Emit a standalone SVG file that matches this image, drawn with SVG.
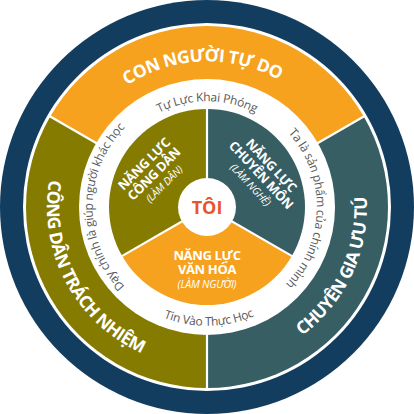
<svg xmlns="http://www.w3.org/2000/svg" xmlns:xlink="http://www.w3.org/1999/xlink" width="414" height="414" viewBox="0 0 414 414">
<style>
.big{font-family:"Open Sans","Noto Sans",sans-serif;font-weight:700;font-size:17.5px;letter-spacing:-0.6px;fill:#fff}
.ring{font-family:"Open Sans","Noto Sans",sans-serif;font-size:12px;letter-spacing:-0.25px;fill:#58595b}
.lab{font-family:"Open Sans","Noto Sans",sans-serif;font-weight:700;font-size:13px;letter-spacing:-0.35px;fill:#fff;text-anchor:middle}
.sub{font-family:"Open Sans","Noto Sans",sans-serif;font-style:italic;font-size:10.5px;letter-spacing:-0.2px;fill:#fff;text-anchor:middle}
.sep{stroke:#fff;stroke-width:2.2;fill:none}
</style>
<defs>
<path id="pTop" d="M69.87,156.73 A147,147 0 0 1 345.13,156.73"/>
<path id="pLeft" d="M108.5,80.9 A160,160 0 0 0 256.4,359.2"/>
<path id="pRight" d="M165.6,361.5 A160,160 0 0 0 298.8,75.9"/>
<path id="rTop" d="M107.4,171.0 A106,106 0 0 1 306.6,171.0"/>
<path id="rLeft" d="M197.1,320.6 A114,114 0 0 1 197.1,93.4"/>
<path id="rRight" d="M218.5,97.6 A110,110 0 0 1 214.7,316.7"/>
<path id="rBot" d="M90.2,229.7 A119,119 0 0 0 324.5,225.6"/>
</defs>
<circle cx="207" cy="207" r="207" fill="#133d5e"/>
<circle cx="207" cy="207" r="184" fill="#fff"/>
<g id="outer-top">
<path d="M207,207 L50.25,116.5 A181,181 0 0 1 363.75,116.5 Z" fill="#f6a21f"/>
<text class="big"><textPath xlink:href="#pTop" href="#pTop" startOffset="48.5%" text-anchor="middle">CON NGƯỜI TỰ DO</textPath></text>
</g>
<g id="outer-right">
<path d="M207,207 L363.75,116.5 A181,181 0 0 1 207,388 Z" fill="#365e63"/>
<text class="big"><textPath xlink:href="#pRight" href="#pRight" startOffset="50%" text-anchor="middle">CHUYÊN GIA ƯU TÚ</textPath></text>
</g>
<g id="outer-left">
<path d="M207,207 L207,388 A181,181 0 0 1 50.25,116.5 Z" fill="#857b01"/>
<text class="big"><textPath xlink:href="#pLeft" href="#pLeft" startOffset="50%" text-anchor="middle">CÔNG DÂN TRÁCH NHIỆM</textPath></text>
</g>
<g id="connectors">
<line class="sep" x1="207" y1="207" x2="207" y2="390"/>
<line class="sep" x1="207" y1="207" x2="48.5" y2="115.5"/>
<line class="sep" x1="207" y1="207" x2="365.5" y2="115.5"/>
</g>
<g id="ring">
<circle cx="207" cy="207" r="128" fill="#fff"/>
<text class="ring"><textPath xlink:href="#rTop" href="#rTop" startOffset="50%" text-anchor="middle">Tự Lực Khai Phóng</textPath></text>
<text class="ring"><textPath xlink:href="#rLeft" href="#rLeft" startOffset="50%" text-anchor="middle">Dạy chính là giúp người khác học</textPath></text>
<text class="ring"><textPath xlink:href="#rRight" href="#rRight" startOffset="50%" text-anchor="middle">Ta là sản phẩm của chính mình</textPath></text>
<text class="ring"><textPath xlink:href="#rBot" href="#rBot" startOffset="50%" text-anchor="middle">Tin Vào Thực Học</textPath></text>
</g>
<g id="inner-left">
<path d="M207,207 L122.13,256 A98,98 0 0 1 207,109 Z" fill="#857b01"/>
<g transform="translate(154,174) rotate(-45)">
<text class="lab" x="0" y="-9.5">NĂNG LỰC</text>
<text class="lab" x="0" y="4.5">CÔNG DÂN</text>
<text class="sub" x="0" y="18">(LÀM DÂN)</text>
</g>
</g>
<g id="inner-right">
<path d="M207,207 L207,109 A98,98 0 0 1 291.87,256 Z" fill="#365e63"/>
<g transform="translate(261,175) rotate(47)">
<text class="lab" x="0" y="-9.5">NĂNG LỰC</text>
<text class="lab" x="0" y="4.5">CHUYÊN MÔN</text>
<text class="sub" x="0" y="18">(LÀM NGHỀ)</text>
</g>
</g>
<g id="inner-bottom">
<path d="M207,207 L291.87,256 A98,98 0 0 1 122.13,256 Z" fill="#f6a21f"/>
<text class="lab" x="207" y="260">NĂNG LỰC</text>
<text class="lab" x="207" y="274">VĂN HÓA</text>
<text class="sub" x="207" y="288">(LÀM NGƯỜI)</text>
</g>
<g id="inner-sep">
<line class="sep" x1="207" y1="207" x2="207" y2="108"/>
<line class="sep" x1="207" y1="207" x2="293" y2="256.6"/>
<line class="sep" x1="207" y1="207" x2="121" y2="256.6"/>
</g>
<g id="center">
<circle cx="207" cy="207" r="29" fill="#fff"/>
<text x="207" y="213.5" text-anchor="middle" style="font-family:'Open Sans','Noto Sans',sans-serif;font-weight:700;font-size:18px;fill:#e8542c">TÔI</text>
</g>
</svg>
